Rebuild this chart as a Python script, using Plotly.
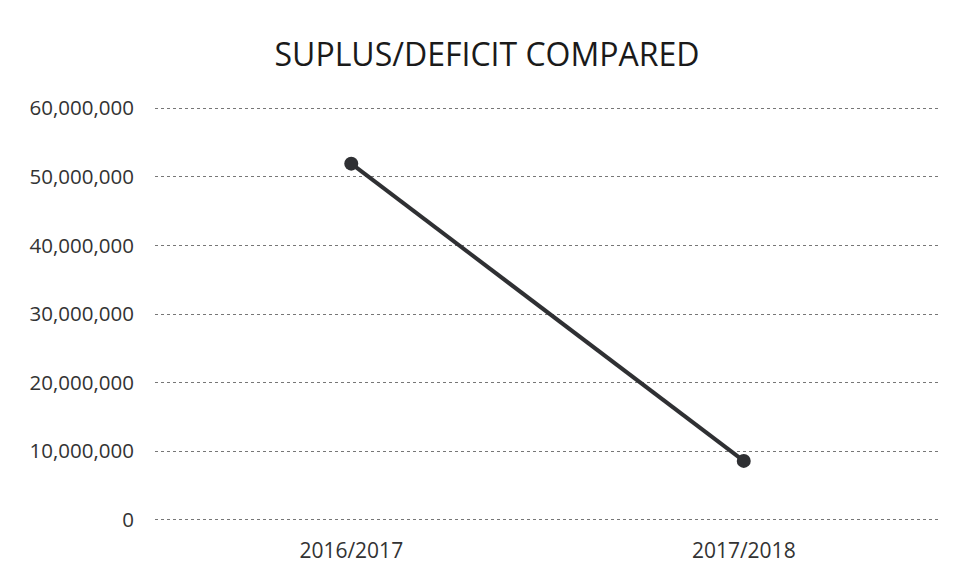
import plotly.graph_objects as go

years = ["2016/2017", "2017/2018"]
surplus = [51900000, 8600000]
y_ticks = [0, 10000000, 20000000, 30000000, 40000000, 50000000, 60000000]
y_tick_labels = ["0", "10,000,000", "20,000,000", "30,000,000", "40,000,000", "50,000,000", "60,000,000"]

fig = go.Figure()
fig.add_trace(go.Scatter(
    x=years, y=surplus, mode="lines+markers",
    line=dict(color="#2f3033", width=4),
    marker=dict(color="#2f3033", size=14),
    showlegend=False,
))

fig.update_layout(
    width=960, height=576,
    paper_bgcolor="white", plot_bgcolor="white",
    margin=dict(l=155, r=20, t=106, b=49),
    font=dict(family="Open Sans, Liberation Sans, sans-serif", color="#333333"),
    title=dict(text="SUPLUS/DEFICIT COMPARED", x=487 / 960, xanchor="center",
               y=1 - 55 / 576, yanchor="middle",
               font=dict(size=32, color="#1a1a1a")),
)
fig.update_xaxes(range=[-0.5, 1.5], showgrid=False, zeroline=False, showline=False,
                 tickfont=dict(size=21, color="#333333"), ticklabelstandoff=14)
fig.update_yaxes(range=[-300000, 60300000], tickvals=y_ticks, ticktext=y_tick_labels,
                 showgrid=True, gridcolor="#777777", griddash="dot", gridwidth=1,
                 zeroline=False, showline=False,
                 tickfont=dict(size=20.5, color="#333333"), ticklabelstandoff=20)

fig.write_html("out.html", config={"displayModeBar": False},
               post_script="document.body.style.margin='0';")
